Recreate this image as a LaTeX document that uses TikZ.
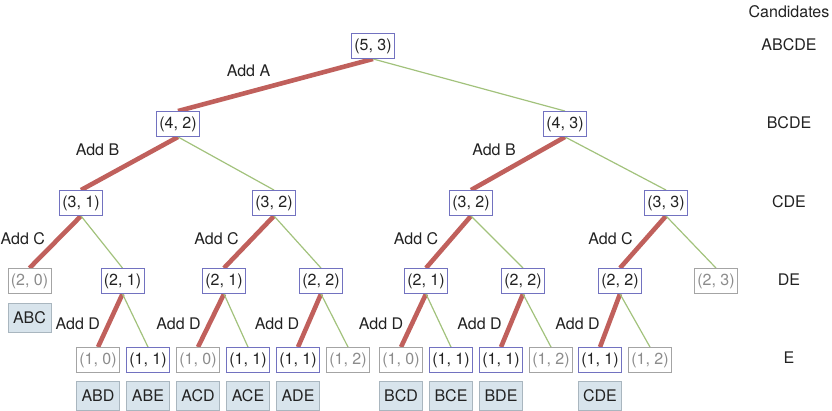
\documentclass[tikz,border=0pt]{standalone}
\usepackage{fontspec}
\setmainfont{TeX Gyre Heros}
\usetikzlibrary{positioning,backgrounds}
\definecolor{boxblue}{HTML}{7272C0}
\definecolor{boxgray}{HTML}{A4A4A4}
\definecolor{txtgray}{HTML}{8C8C8C}
\definecolor{txtdark}{HTML}{222222}
\definecolor{candfill}{HTML}{D8E4EC}
\definecolor{canddraw}{HTML}{A9B6BF}
\definecolor{addred}{HTML}{C0605C}
\definecolor{skipgreen}{HTML}{A2C27C}
\tikzset{
  statenode/.style = {align=center, inner sep=0pt, text centered, minimum width=43pt, minimum height=25pt, fill=white, line width=0.9pt},
  st_on/.style = {statenode, draw=boxblue, text=txtdark},
  st_off/.style = {statenode, draw=boxgray, text=txtgray},
  cand/.style = {statenode, minimum height=29pt, fill=candfill, draw=canddraw, text=txtdark},
  colnode/.style = {inner sep=0pt, text=txtdark},
  e_add/.style = {draw=addred, line width=4.6pt},
  e_skip/.style = {draw=skipgreen, line width=1.2pt},
  add_lbl/.style = {midway, left=8pt, yshift=3pt, inner sep=0pt, text=txtdark},
  add_lo/.style = {midway, left=8pt, yshift=-3.5pt, inner sep=0pt, text=txtdark},
  add_hi/.style = {midway, above left=6pt and 3pt, inner sep=0pt, text=txtdark}
}

\begin{document}
\begin{tikzpicture}[x=1pt, y=-1pt, font=\fontsize{16}{19}\selectfont]
\useasboundingbox (0,0) rectangle (832,411);

% states (items left, picks left)
\node [st_on] (n53) at (373,46) {(5, 3)};
\node [st_on] (n42) at (178,124) {(4, 2)};
\node [st_on] (n43) at (565,124) {(4, 3)};
\node [st_on] (n31) at (81,203) {(3, 1)};
\node [st_on] (n32a) at (274,203) {(3, 2)};
\node [st_on] (n32b) at (471,203) {(3, 2)};
\node [st_on] (n33) at (666,203) {(3, 3)};
\node [st_off] (n20) at (29.5,281) {(2, 0)};
\node [st_on] (n21a) at (122.5,281) {(2, 1)};
\node [st_on] (n21b) at (224,281) {(2, 1)};
\node [st_on] (n22a) at (321,281) {(2, 2)};
\node [st_on] (n21c) at (426,281) {(2, 1)};
\node [st_on] (n22b) at (523,281) {(2, 2)};
\node [st_on] (n22c) at (620,281) {(2, 2)};
\node [st_off] (n23) at (716,281) {(2, 3)};
\node [st_off] (n10a) at (98,360) {(1, 0)};
\node [st_on] (n11a) at (148,360) {(1, 1)};
\node [st_off] (n10b) at (198,360) {(1, 0)};
\node [st_on] (n11b) at (248,360) {(1, 1)};
\node [st_on] (n11c) at (298,360) {(1, 1)};
\node [st_off] (n12a) at (348,360) {(1, 2)};
\node [st_off] (n10c) at (401,360) {(1, 0)};
\node [st_on] (n11d) at (451,360) {(1, 1)};
\node [st_on] (n11e) at (501,360) {(1, 1)};
\node [st_off] (n12b) at (551,360) {(1, 2)};
\node [st_on] (n11f) at (600,360) {(1, 1)};
\node [st_off] (n12c) at (650,360) {(1, 2)};

% chosen sets
\node [cand, below=9pt of n20] (abc) {ABC};
\node [cand, below=8pt of n10a] (abd) {ABD};
\node [cand, below=8pt of n11a] (abe) {ABE};
\node [cand, below=8pt of n10b] (acd) {ACD};
\node [cand, below=8pt of n11b] (ace) {ACE};
\node [cand, below=8pt of n11c] (ade) {ADE};
\node [cand, below=8pt of n10c] (bcd) {BCD};
\node [cand, below=8pt of n11d] (bce) {BCE};
\node [cand, below=8pt of n11e] (bde) {BDE};
\node [cand, below=8pt of n11f] (cde) {CDE};

% right column
\node [colnode] (col0) at (789,12) {Candidates};
\node [colnode] (col1) at (789,45) {ABCDE};
\node [colnode] (col2) at (789,123) {BCDE};
\node [colnode] (col3) at (789,202) {CDE};
\node [colnode] (col4) at (789,280) {DE};
\node [colnode] (col5) at (789,358) {E};

\begin{pgfonlayer}{background}
\draw [e_add] (n53.south) -- node [add_hi] {Add A} (n42.north);
\draw [e_skip] (n53.south) -- (n43.north);
\draw [e_add] (n42.south) -- node [add_hi, above left=5pt and 8pt] {Add B} (n31.north);
\draw [e_skip] (n42.south) -- (n32a.north);
\draw [e_add] (n43.south) -- node [add_hi, above left=5pt and 0pt] {Add B} (n32b.north);
\draw [e_skip] (n43.south) -- (n33.north);
\draw [e_add] (n31.south) -- node [add_lbl] {Add C} (n20.north);
\draw [e_skip] (n31.south) -- (n21a.north);
\draw [e_add] (n32a.south) -- node [add_lbl] {Add C} (n21b.north);
\draw [e_skip] (n32a.south) -- (n22a.north);
\draw [e_add] (n32b.south) -- node [add_lbl] {Add C} (n21c.north);
\draw [e_skip] (n32b.south) -- (n22b.north);
\draw [e_add] (n33.south) -- node [add_lbl] {Add C} (n22c.north);
\draw [e_skip] (n33.south) -- (n23.north);
\draw [e_add] (n21a.south) -- node [add_lo] {Add D} (n10a.north);
\draw [e_skip] (n21a.south) -- (n11a.north);
\draw [e_add] (n21b.south) -- node [add_lo] {Add D} (n10b.north);
\draw [e_skip] (n21b.south) -- (n11b.north);
\draw [e_add] (n22a.south) -- node [add_lo] {Add D} (n11c.north);
\draw [e_skip] (n22a.south) -- (n12a.north);
\draw [e_add] (n21c.south) -- node [add_lo] {Add D} (n10c.north);
\draw [e_skip] (n21c.south) -- (n11d.north);
\draw [e_add] (n22b.south) -- node [add_lo] {Add D} (n11e.north);
\draw [e_skip] (n22b.south) -- (n12b.north);
\draw [e_add] (n22c.south) -- node [add_lo] {Add D} (n11f.north);
\draw [e_skip] (n22c.south) -- (n12c.north);
\end{pgfonlayer}
\end{tikzpicture}
\end{document}
